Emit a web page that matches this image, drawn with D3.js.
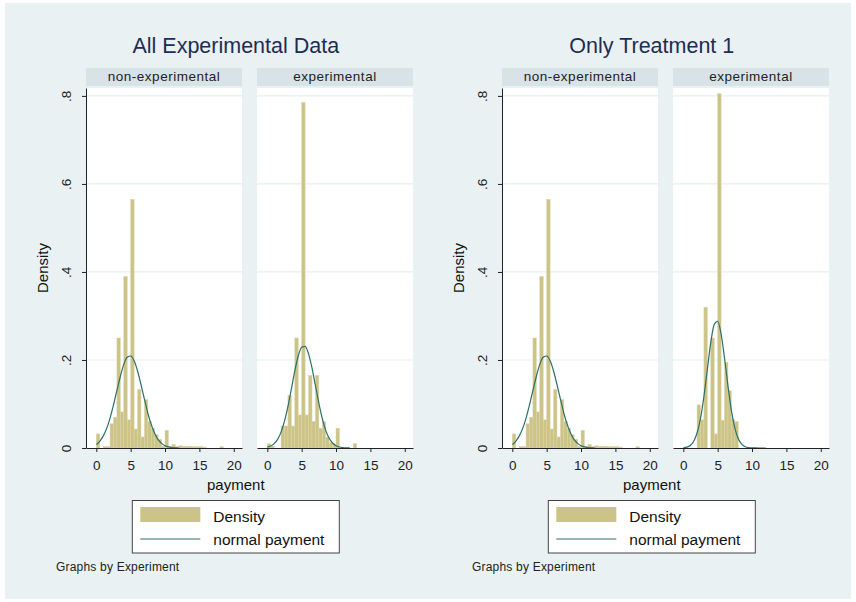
<!DOCTYPE html>
<html>
<head>
<meta charset="utf-8">
<script src="https://cdn.jsdelivr.net/npm/d3@7"></script>
<style>
  body { margin: 0; background: #ffffff; }
  text { font-family: "Liberation Sans", Arial, sans-serif; }
</style>
</head>
<body>
<svg id="chart"></svg>
<script>
// Histogram bins (left edge, width 0.5) and densities
const binStart = [0,0.5,1,1.5,2,2.5,3,3.5,4,4.5,5,5.5,6,6.5,7,7.5,8,8.5,9,9.5,10,10.5,11,11.5,12,12.5,13,13.5,14,14.5,15,15.5,16,16.5,17,17.5,18];
const binWidth = 0.5;

// non-experimental group (same in both graphs)
const nonExpDensity = [0.032,0,0.003,0.003,0.055,0.07,0.25,0.082,0.39,0.064,0.565,0.043,0.133,0.025,0.11,0.06,0.045,0.03,0.02,0.004,0.04,0.004,0.008,0.003,0.005,0.004,0.004,0.004,0.003,0.003,0.003,0.002,0,0,0,0,0.003];
// experimental, all treatments
const allExpDensity = [0.01,0.004,0,0,0.05,0.05,0.12,0.05,0.25,0.075,0.785,0.075,0.165,0.06,0.165,0.045,0.06,0.025,0.012,0.008,0.045,0,0,0,0,0.01,0,0,0,0,0,0,0,0,0,0,0];
// experimental, treatment 1 only
const t1ExpDensity = [0,0,0,0,0.098,0.064,0.32,0,0.25,0.032,0.805,0.063,0.195,0.13,0.065,0.06,0,0,0,0,0,0,0,0,0,0,0,0,0,0,0,0,0,0,0,0,0];

// normal payment curves, read at these payment values
const curveX = [0,0.5,1,1.5,2,2.5,3,3.5,4,4.5,5,5.5,6,6.5,7,7.5,8,8.5,9,9.5,10,10.5,11,11.5,12];
const nonExpCurve = [0.0081,0.0153,0.027,0.044,0.068,0.098,0.131,0.163,0.19,0.206,0.209,0.198,0.175,0.144,0.111,0.079,0.053,0.033,0.019,0.0105,0.0053,0.0025,0.0011,0.0005,0.0002];
const allExpCurve = [0.0019,0.0045,0.0099,0.0197,0.036,0.061,0.094,0.134,0.175,0.209,0.229,0.231,0.214,0.182,0.142,0.102,0.067,0.04,0.022,0.0114,0.0053,0.0023,0.0009,0.0003,0.0001];
const t1ExpCurve = [0.0006,0.0019,0.0057,0.0149,0.034,0.067,0.117,0.179,0.24,0.281,0.288,0.259,0.204,0.141,0.085,0.045,0.021,0.0086,0.003,0.001,0.0003,0.0001,0,0,0];

const graphTitles = ["All Experimental Data", "Only Treatment 1"];
const stripLabels = ["non-experimental", "experimental"];
const xTicks = [0, 5, 10, 15, 20];
const yTicks = [0, 0.2, 0.4, 0.6, 0.8];

const width = 856, height = 602;
const svg = d3.select("#chart")
  .attr("width", width)
  .attr("height", height);

// graph region background (Stata ltbluishgray)
svg.append("rect")
  .attr("x", 5).attr("y", 3)
  .attr("width", 846).attr("height", 596)
  .attr("fill", "#eaf1f3");

const barColor = "#ccc387";
const lineColor = "#2b6e6b";
const font = "'Liberation Sans', Arial, sans-serif";

const graphShift = [0, 416];
const colLeft = [86, 257];
const panelW = 156;
const plotTop = 88, plotBottom = 448;

const panels = [
  {graph: 0, col: 0, bars: nonExpDensity, curve: nonExpCurve},
  {graph: 0, col: 1, bars: allExpDensity, curve: allExpCurve},
  {graph: 1, col: 0, bars: nonExpDensity, curve: nonExpCurve},
  {graph: 1, col: 1, bars: t1ExpDensity, curve: t1ExpCurve}
];

const y = d3.scaleLinear()
  .domain([0, 0.818])
  .range([plotBottom, plotTop]);

panels.forEach(p => {
  const left = graphShift[p.graph] + colLeft[p.col];
  const x = d3.scaleLinear()
    .domain([-1.5, 21.2])
    .range([left, left + panelW]);

  const g = svg.append("g");

  // strip header
  g.append("rect")
    .attr("x", left).attr("y", 68)
    .attr("width", panelW).attr("height", 18)
    .attr("fill", "#d8e3e8");
  g.append("text")
    .attr("x", left + panelW / 2)
    .attr("y", 80.5)
    .attr("text-anchor", "middle")
    .style("font-size", "13.5px")
    .style("letter-spacing", "0.5px")
    .attr("fill", "#222")
    .text(stripLabels[p.col]);

  // plot region
  g.append("rect")
    .attr("x", left).attr("y", plotTop)
    .attr("width", panelW).attr("height", plotBottom - plotTop)
    .attr("fill", "#ffffff");

  // grid lines
  g.selectAll(".grid")
    .data(yTicks.slice(1))
    .enter()
    .append("line")
    .attr("x1", left).attr("x2", left + panelW)
    .attr("y1", d => y(d)).attr("y2", d => y(d))
    .attr("stroke", "#e6eff1")
    .attr("stroke-width", 1.2);

  // histogram bars
  const bins = binStart.map((b, i) => ({x0: b, d: p.bars[i]})).filter(b => b.d > 0);
  g.selectAll(".bar")
    .data(bins)
    .enter()
    .append("rect")
    .attr("x", d => x(d.x0))
    .attr("width", d => x(d.x0 + binWidth) - x(d.x0))
    .attr("y", d => y(d.d))
    .attr("height", d => y(0) - y(d.d))
    .attr("fill", barColor)
    .attr("stroke", "#dbd5a9")
    .attr("stroke-width", 0.5);

  // normal curve
  const line = d3.line()
    .x((d, i) => x(curveX[i]))
    .y(d => y(d))
    .curve(d3.curveMonotoneX);
  g.append("path")
    .datum(p.curve)
    .attr("d", line)
    .attr("fill", "none")
    .attr("stroke", lineColor)
    .attr("stroke-width", 1.2);

  // x axis
  const xa = g.append("g")
    .attr("transform", `translate(0,${plotBottom})`)
    .call(d3.axisBottom(x).tickValues(xTicks).tickSize(4).tickSizeOuter(0));
  xa.select(".domain").attr("stroke", "#222");
  xa.selectAll(".tick line").attr("stroke", "#222");
  xa.selectAll("text")
    .attr("y", 12)
    .style("font-family", font)
    .style("font-size", "13.5px")
    .attr("fill", "#222");

  // y axis only on first column
  if (p.col === 0) {
    const ya = g.append("g")
      .attr("transform", `translate(${left},0)`)
      .call(d3.axisLeft(y).tickValues(yTicks).tickSize(4).tickSizeOuter(0)
        .tickFormat(d => d === 0 ? "0" : d3.format(".1f")(d).replace(/^0/, "")));
    ya.select(".domain").attr("stroke", "#222");
    ya.selectAll(".tick line").attr("stroke", "#222");
    ya.selectAll("text")
      .attr("transform", "rotate(-90)")
      .attr("x", 0)
      .attr("y", -15)
      .attr("dy", 0)
      .attr("text-anchor", "middle")
      .style("font-family", font)
      .style("font-size", "13.5px")
      .attr("fill", "#222");
  }
});

// per-graph titles, axis titles, legend, note
graphShift.forEach((s, gi) => {
  const cx = 235.8 + s;

  svg.append("text")
    .attr("x", cx).attr("y", 52.7)
    .attr("text-anchor", "middle")
    .style("font-size", "21.5px")
    .attr("fill", "#1e2d55")
    .text(graphTitles[gi]);

  svg.append("text")
    .attr("transform", `translate(${48 + s},${(plotTop + plotBottom) / 2}) rotate(-90)`)
    .attr("text-anchor", "middle")
    .style("font-size", "15px")
    .attr("fill", "#111")
    .text("Density");

  svg.append("text")
    .attr("x", cx).attr("y", 490)
    .attr("text-anchor", "middle")
    .style("font-size", "15px")
    .attr("fill", "#111")
    .text("payment");

  // legend
  const lx = cx - 103.5;
  const lg = svg.append("g");
  lg.append("rect")
    .attr("x", lx).attr("y", 500.5)
    .attr("width", 207).attr("height", 52.5)
    .attr("fill", "#ffffff")
    .attr("stroke", "#444")
    .attr("stroke-width", 1);
  lg.append("rect")
    .attr("x", lx + 8).attr("y", 507)
    .attr("width", 60).attr("height", 15)
    .attr("fill", barColor);
  lg.append("line")
    .attr("x1", lx + 8).attr("x2", lx + 68)
    .attr("y1", 539).attr("y2", 539)
    .attr("stroke", lineColor)
    .attr("stroke-width", 1.2);
  lg.append("text")
    .attr("x", lx + 81).attr("y", 521.5)
    .style("font-size", "15.5px")
    .attr("fill", "#111")
    .text("Density");
  lg.append("text")
    .attr("x", lx + 81).attr("y", 545)
    .style("font-size", "15.5px")
    .attr("fill", "#111")
    .text("normal payment");

  svg.append("text")
    .attr("x", 56 + s).attr("y", 570.7)
    .style("font-size", "12px")
    .style("letter-spacing", "0.2px")
    .attr("fill", "#222")
    .text("Graphs by Experiment");
});
</script>
</body>
</html>
